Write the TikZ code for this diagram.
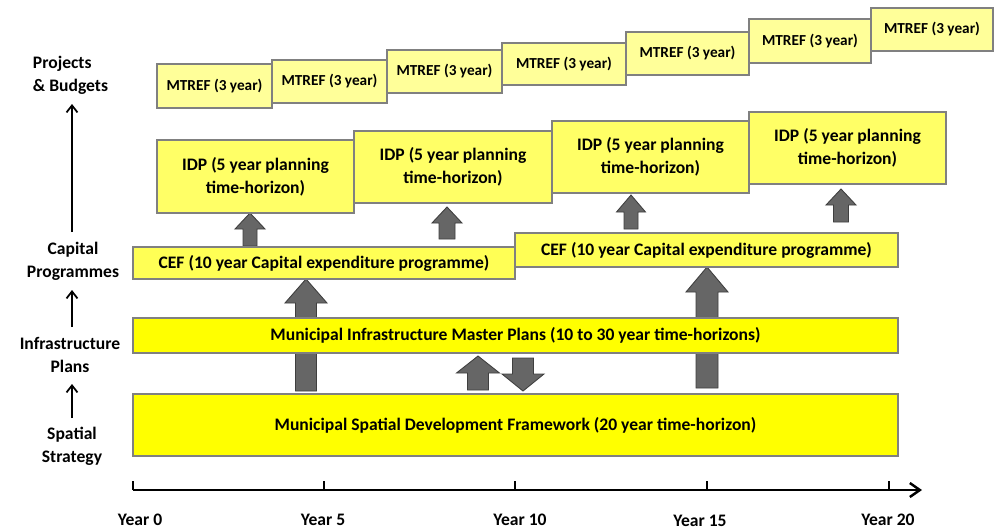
\documentclass[tikz,border=0pt]{standalone}
\usepackage{fontspec}
\setmainfont{Carlito}
\usetikzlibrary{arrows.meta,positioning,calc}
\definecolor{mtrefY}{HTML}{FFFF99}
\definecolor{idpY}{HTML}{FFFF66}
\definecolor{cefY}{HTML}{FFFF55}
\definecolor{planY}{HTML}{FFFF00}
\definecolor{edgeG}{HTML}{808080}
\definecolor{fatG}{HTML}{666666}
\definecolor{fatE}{HTML}{3F3F3F}

\begin{document}
\begin{tikzpicture}[x=0.02cm,y=-0.02cm,font=\bfseries\fontsize{10}{13}\selectfont,
 bx/.style n args={2}{draw=edgeG,line width=0.7pt,minimum width=#1*0.02cm,minimum height=#2*0.02cm,inner sep=0pt,align=center},
 fat/.style={fill=fatG,draw=fatE,line width=0.5pt},
 lvl/.style={inner sep=0pt,align=center},
 up/.style={-{Straight Barb[length=1.4mm,width=2.2mm]},line width=1pt},
 ax/.style={line width=1.4pt}]
\useasboundingbox (0,0) rectangle (1000,529);
% block arrows (x / bottom / tip / shaft half / head half / head length)
\foreach \x/\yb/\yt/\s/\h/\l in {250/246/213/7/15/16,447/239/207/8/15/16,631/229/195/7/14.5/17,841/222/189/7.5/15/16,
 306/391/279/10.5/21/24,707/388/267/11/21/25,478/390/356/10.5/21.5/17}
 \draw[fat] ({\x-\s},\yb) -- ({\x-\s},{\yt+\l}) -- ({\x-\h},{\yt+\l}) -- (\x,\yt)
  -- ({\x+\h},{\yt+\l}) -- ({\x+\s},{\yt+\l}) -- ({\x+\s},\yb) -- cycle;
\draw[fat] (512.5,358) -- (512.5,374) -- (502,374) -- (523,391) -- (544,374) -- (533.5,374) -- (533.5,358) -- cycle;
% MTREF row
\begin{scope}[font=\bfseries\fontsize{8.7}{10}\selectfont]
\node[bx={115}{44},fill=mtrefY] (m1) at (214.5,86) {MTREF (3 year)};
\node[bx={115}{43},fill=mtrefY] (m2) at (329.5,81.5) {MTREF (3 year)};
\node[bx={115}{43},fill=mtrefY] (m3) at (444.5,71.5) {MTREF (3 year)};
\node[bx={124}{42},fill=mtrefY] (m4) at (564,64) {MTREF (3 year)};
\node[bx={123}{43},fill=mtrefY] (m5) at (687.5,53.5) {MTREF (3 year)};
\node[bx={122}{44},fill=mtrefY] (m6) at (810,41) {MTREF (3 year)};
\node[bx={122}{43},fill=mtrefY] (m7) at (932,29.5) {MTREF (3 year)};
\end{scope}
% IDP row
\node[bx={197}{73},fill=idpY] (idp1) at (255.5,176.5) {IDP (5 year planning\\time-horizon)};
\node[bx={198}{72},fill=idpY] (idp2) at (453,167) {IDP (5 year planning\\time-horizon)};
\node[bx={197}{72},fill=idpY] (idp3) at (650.5,157) {IDP (5 year planning\\time-horizon)};
\node[bx={197}{72},fill=idpY] (idp4) at (847.5,148) {IDP (5 year planning\\time-horizon)};
% CEF, master plans, spatial framework
\node[bx={382}{32},fill=cefY] (cef1) at (324,263) {CEF (10 year Capital expenditure programme)};
\node[bx={383}{34},fill=cefY] (cef2) at (706.5,250) {CEF (10 year Capital expenditure programme)};
\node[bx={765}{35},fill=planY] (mimp) at (515.5,335.5) {Municipal Infrastructure Master Plans (10 to 30 year time-horizons)};
\node[bx={765}{62},fill=planY] (msdf) at (515.5,425) {Municipal Spatial Development Framework (20 year time-horizon)};
% levels on the left
\node[lvl,align=left] (proj) at (70.5,75) {Projects\\\& Budgets};
\node[lvl] (capp) at (73,261) {Capital\\Programmes};
\node[lvl] (infp) at (70,355) {Infrastructure\\Plans};
\node[lvl] (spst) at (72,446) {Spatial\\Strategy};
\draw[up] (72,232) -- (72,104);
\draw[up] (72,327) -- (72,290);
\draw[up] (72,418) -- (72,384);
% time axis
\coordinate (a0) at (133,490);
\coordinate (aend) at (922,490);
\draw[ax,-{Straight Barb[length=2mm,width=2.8mm]}] (a0) -- (aend);
\foreach \x in {133,324,515,707,889}
 \draw[line width=1pt] (\x,490) -- (\x,481);
\node[inner sep=1pt] (yr0) at (140,520) {Year 0};
\node[inner sep=1pt] (yr5) at (323,520) {Year 5};
\node[inner sep=1pt] (yr10) at (520,520) {Year 10};
\node[inner sep=1pt] (yr15) at (700,521) {Year 15};
\node[inner sep=1pt] (yr20) at (888,520) {Year 20};
\end{tikzpicture}
\end{document}
